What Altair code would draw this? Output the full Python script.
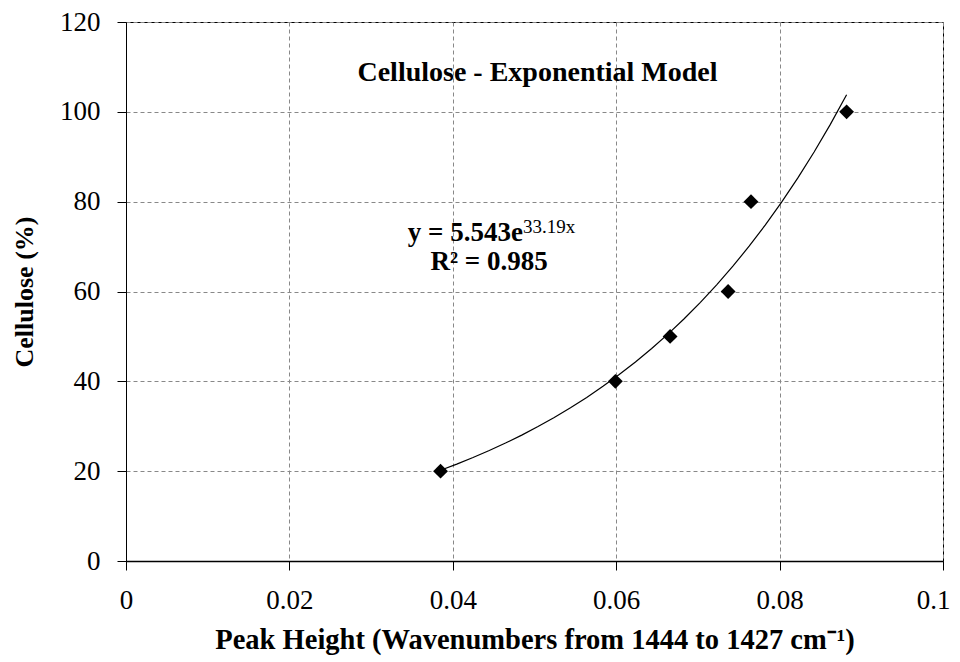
import altair as alt
import pandas as pd

# Measured data points
peak_height = [0.0385, 0.0599, 0.0666, 0.0737, 0.0765, 0.0882]
cellulose = [20, 40, 50, 60, 80, 100]

# Annotation texts (positions in data units)
ann_text = ["Cellulose -  Exponential Model", "y = 5.543e", "33.19x", "R\u00b2 = 0.985"]
ann_x = [0.05037, 0.04859, 0.04859, 0.04444]
ann_y = [106.8, 71.2, 73.1, 64.75]
ann_align = ["center", "right", "left", "center"]
ann_size = [28, 27, 19, 27]
ann_weight = ["bold", "bold", "normal", "bold"]

df = pd.DataFrame({"x": peak_height, "y": cellulose})
ann = pd.DataFrame({"t": ann_text, "x": ann_x, "y": ann_y, "align": ann_align,
                    "size": ann_size, "weight": ann_weight})

FONT = "'Liberation Serif', 'Times New Roman', Times, serif"

xscale = alt.Scale(domain=[0, 0.1], nice=False, zero=False)
yscale = alt.Scale(domain=[0, 120], nice=False)

xaxis = alt.Axis(values=[0, 0.02, 0.04, 0.06, 0.08, 0.1],
                 labelExpr="datum.value == 0 ? '0' : format(datum.value, '.2~f')",
                 title="Peak Height (Wavenumbers from 1444 to 1427 cm\u207b\u00b9)",
                 labelFont=FONT, labelFontSize=27, labelColor="#000",
                 titleFont=FONT, titleFontSize=28.5, titleFontWeight="bold", titleColor="#000",
                 tickSize=9, tickColor="#000", labelPadding=17, titlePadding=12,
                 labelOffset=alt.ConditionalAxisNumber(
                     condition={"test": "datum.value >= 0.099", "value": -10}, value=0),
                 domainColor="#000", domainWidth=1.5,
                 grid=True, gridColor="#888", gridDash=[4, 3], gridWidth=1,
                 labelFlush=False)
yaxis = alt.Axis(values=[0, 20, 40, 60, 80, 100, 120],
                 title="Cellulose (%)",
                 labelFont=FONT, labelFontSize=27, labelColor="#000",
                 titleFont=FONT, titleFontSize=26, titleFontWeight="bold", titleColor="#000",
                 tickSize=9, tickColor="#000", labelPadding=17, titlePadding=22,
                 domainColor="#000", domainWidth=1,
                 grid=True, gridColor="#888", gridDash=[4, 3], gridWidth=1)

base = alt.Chart(df)

fit = base.transform_regression("x", "y", method="exp").mark_line(
    color="#000", strokeWidth=1.2
).encode(
    x=alt.X("x:Q", scale=xscale, axis=xaxis),
    y=alt.Y("y:Q", scale=yscale, axis=yaxis),
)

pts = base.mark_point(shape="diamond", filled=True, color="#000", size=220, opacity=1).encode(
    x=alt.X("x:Q", scale=xscale),
    y=alt.Y("y:Q", scale=yscale),
)

def ann_layer(i):
    return alt.Chart(ann.iloc[[i]]).mark_text(
        font=FONT, fontSize=ann_size[i], fontWeight=ann_weight[i],
        align=ann_align[i], baseline="alphabetic", color="#000"
    ).encode(x=alt.X("x:Q", scale=xscale), y=alt.Y("y:Q", scale=yscale), text="t:N")

chart = alt.layer(fit, pts, *[ann_layer(i) for i in range(len(ann_text))]).properties(
    width=817, height=539,
    padding={"left": 118, "top": 14, "right": 9, "bottom": 100},
    autosize=alt.AutoSizeParams(type="none"),
    background="white",
).configure_view(stroke="#000", strokeWidth=1)

chart.save("out.html", embed_options={"renderer": "svg", "actions": False})
